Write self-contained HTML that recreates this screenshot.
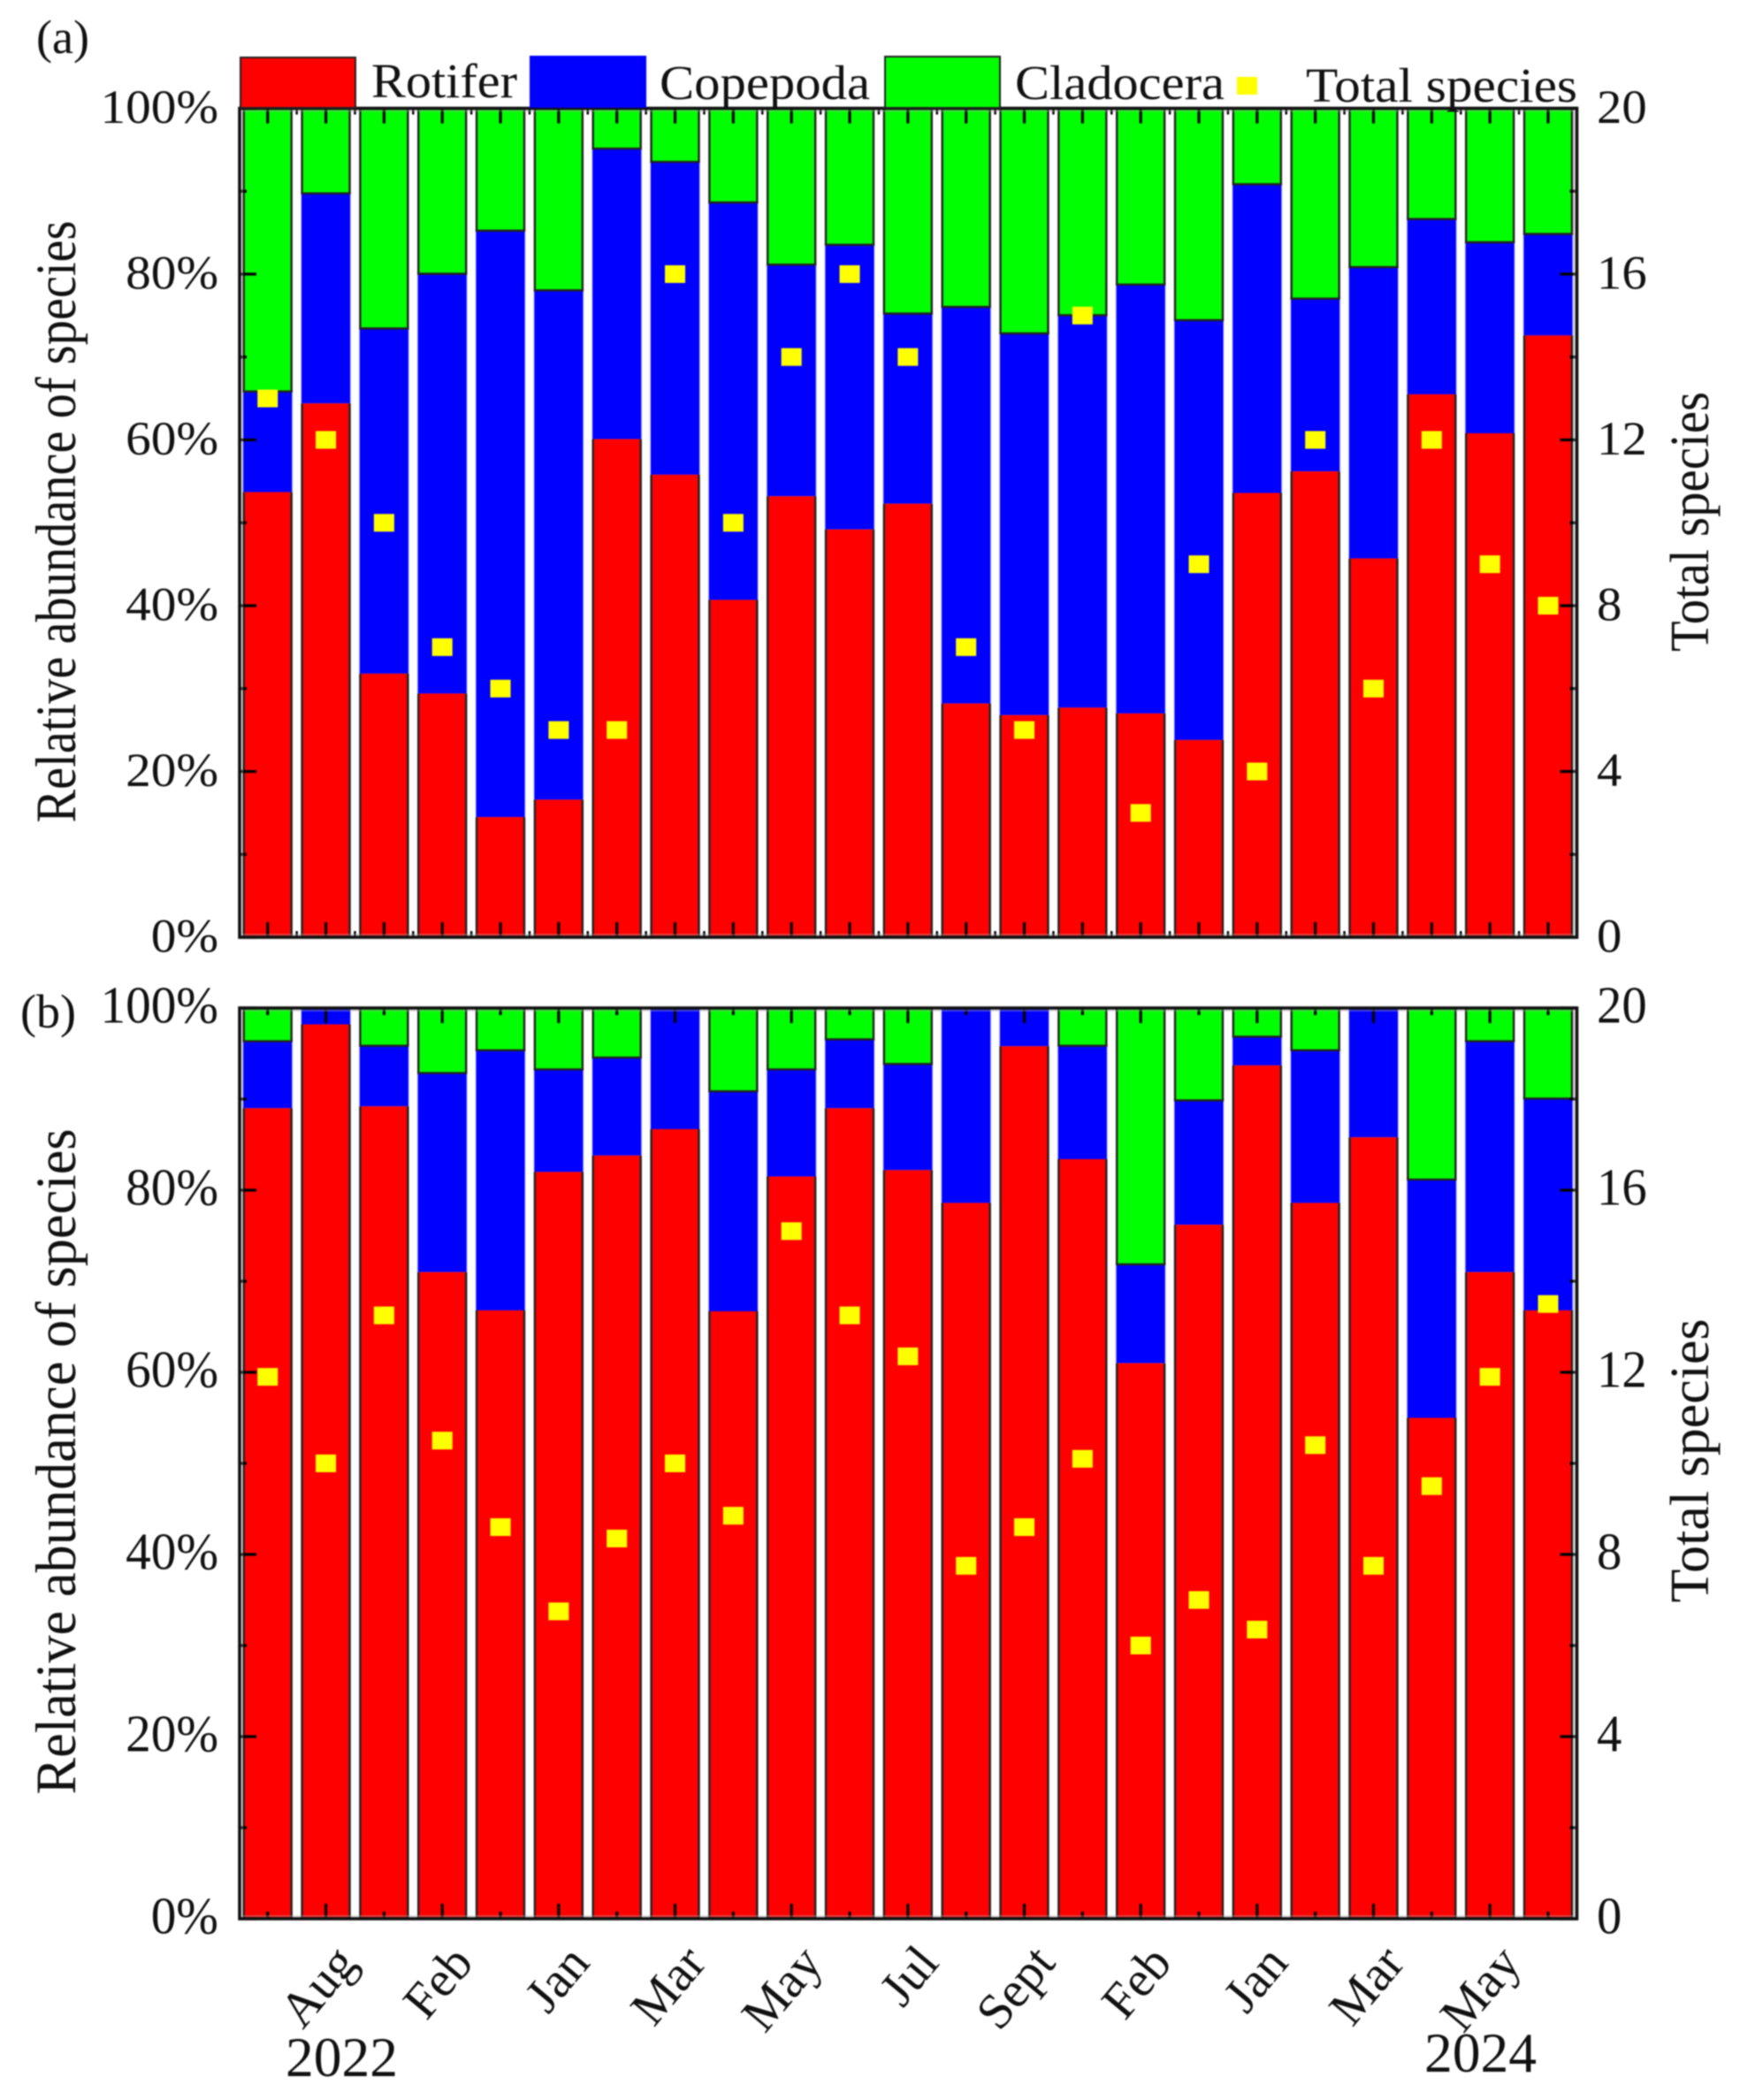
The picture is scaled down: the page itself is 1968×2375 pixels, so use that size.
<!DOCTYPE html>
<html lang="en">
<head>
<meta charset="utf-8">
<title>Relative abundance of species</title>
<style>
html,body{margin:0;padding:0;background:#fff;width:1968px;height:2375px;overflow:hidden}
svg{display:block;filter:blur(0.8px)}
text{font-family:"Liberation Serif",serif;fill:#111}
</style>
</head>
<body>
<svg id="chart" xmlns="http://www.w3.org/2000/svg" width="1968" height="2375" viewBox="0 0 1968 2375">
  <rect x="0" y="0" width="1968" height="2375" fill="#fff"/>
  <g id="panels"></g>

  <g>
    <rect x="272" y="65" width="130" height="57" fill="#ff0000" stroke="#222" stroke-width="2"/>
    <text x="420" y="110" font-size="55" textLength="165" lengthAdjust="spacingAndGlyphs">Rotifer</text>
    <rect x="599" y="63" width="132" height="59" fill="#0000ff"/>
    <text x="746" y="112" font-size="55" textLength="238" lengthAdjust="spacingAndGlyphs">Copepoda</text>
    <rect x="1001" y="64" width="130" height="58" fill="#00ff00" stroke="#222" stroke-width="2"/>
    <text x="1148" y="112" font-size="55" textLength="237" lengthAdjust="spacingAndGlyphs">Cladocera</text>
    <rect x="1399" y="87" width="23" height="20" fill="#ffff00"/>
    <text x="1477" y="115" font-size="55" textLength="307" lengthAdjust="spacingAndGlyphs">Total species</text>
  </g>

  <text x="41" y="60" font-size="54">(a)</text>
  <text x="23" y="1162" font-size="54">(b)</text>

  <text transform="translate(85,590) rotate(-90)" text-anchor="middle" font-size="65" textLength="681" lengthAdjust="spacingAndGlyphs">Relative abundance of species</text>
  <text transform="translate(85,1653) rotate(-90)" text-anchor="middle" font-size="65" textLength="753" lengthAdjust="spacingAndGlyphs">Relative abundance of species</text>
  <text transform="translate(1932,590) rotate(-90)" text-anchor="middle" font-size="62" textLength="294" lengthAdjust="spacingAndGlyphs">Total species</text>
  <text transform="translate(1932,1652) rotate(-90)" text-anchor="middle" font-size="62" textLength="321" lengthAdjust="spacingAndGlyphs">Total species</text>

  <text x="323" y="2348" font-size="63.5">2022</text>
  <text x="1611" y="2343" font-size="63.5">2024</text>
  <g id="xlabels"></g>
</svg>
<script>
const monthLabels = ["Aug","Feb","Jan","Mar","May","Jul","Sept","Feb","Jan","Mar","May"];
const percentTicks = ["0%","20%","40%","60%","80%","100%"];
const speciesTicks = ["0","4","8","12","16","20"];

const rotiferA = [53.7,64.4,31.8,29.4,14.5,16.6,60.1,55.8,40.7,53.2,49.2,52.3,28.2,26.8,27.7,27.0,23.8,53.6,56.2,45.7,65.5,60.8,72.6];
const copepodaA = [12.3,25.5,41.8,50.8,70.9,61.6,35.2,37.9,48.1,28.1,34.5,23.1,48,46.2,47.5,51.9,50.8,37.4,21,35.3,21.3,23.2,12.4];
const cladoceraA = [34,10.1,26.4,19.8,14.6,21.8,4.7,6.3,11.2,18.7,16.3,24.6,23.8,27,24.8,21.1,25.4,9,22.8,19,13.2,16,15];
const speciesA = [13,12,10,7,6,5,5,16,10,14,16,14,7,5,15,3,9,4,12,6,12,9,8];

const rotiferB = [89,98.2,89.2,71,66.8,82,83.8,86.7,66.7,81.5,89,82.2,78.6,95.8,83.4,61,76.2,93.7,78.6,85.8,55,71,66.8];
const copepodaB = [7.5,1.8,6.8,22,28.7,11.4,10.9,13.3,24.3,11.9,7.7,11.8,21.4,4.2,12.6,11,13.8,3.3,16.9,14.2,26.3,25.5,23.4];
const cladoceraB = [3.5,0,4,7,4.5,6.6,5.3,0,9,6.6,3.3,6,0,0,4,28,10,3,4.5,0,18.7,3.5,9.8];
const speciesB = [11.9,10,13.25,10.5,8.6,6.75,8.35,10,8.85,15.1,13.25,12.35,7.75,8.6,10.1,6,7,6.35,10.4,7.75,9.5,11.9,13.5];

const NS = "http://www.w3.org/2000/svg";
const X0 = 269.8, BAND = 65.83, BAR_W = 54, AX_L = 271, AX_R = 1783.5;
const xCenter = i => X0 + BAND * (i + 0.5);

function mk(tag, attrs, parent) {
  const n = document.createElementNS(NS, tag);
  for (const k in attrs) n.setAttribute(k, attrs[k]);
  parent.appendChild(n);
  return n;
}

function drawPanel(key, top, bottom, sy, rot, cop, cla, spc, alternating) {
  const root = document.getElementById("panels");
  const g = mk("g", {}, root);
  
  
  const yPct = v => bottom - (bottom - top) * v / 100;
  const ySpc = v => bottom - (bottom - top) * v / 20;

  rot.forEach((r, i) => {
    const cx = xCenter(i), l = cx - BAR_W / 2, rt = cx + BAR_W / 2;
    const y1 = yPct(r), y2 = yPct(r + cop[i]), y3 = yPct(r + cop[i] + cla[i]);
    const yg = y2 + 1.5;

    const blueHalo = mk("rect", {x: l - 1.5, y: y2, width: BAR_W + 3, height: Math.max(0, y1 - y2), fill: "#c4c4ff"}, g);
    
    

    const blue = mk("rect", {x: l - 0.5, y: y2, width: BAR_W + 1, height: Math.max(0, y1 - y2), fill: "#0000ff"}, g);
    
    

    const red = mk("rect", {x: l, y: y1, width: BAR_W, height: bottom - y1, fill: "#ff0000"}, g);
    
    

    const redEdge = mk("path", {d: `M${l} ${y1}V${bottom}M${rt} ${y1}V${bottom}`, stroke: "#222", "stroke-width": 2.4, fill: "none"}, g);
    
    

    if (cla[i] > 0) {
      const green = mk("rect", {x: l, y: y3, width: BAR_W, height: yg - y3, fill: "#00ff00"}, g);
      
      

      const greenEdge = mk("path", {d: `M${l} ${y3}V${yg}H${rt}V${y3}`, stroke: "#222", "stroke-width": 2.4, fill: "none"}, g);
      
      
    }
  });

  // y ticks and labels
  const ticks = mk("g", {stroke: "#000", "stroke-width": 3.2, fill: "none"}, g);
  
  
  for (let p = 0; p <= 100; p += 10) {
    const y = yPct(p), len = p % 20 === 0 ? 19 : 8;
    const t = mk("path", {d: `M${AX_L} ${y}h${len}M${AX_R} ${y}h${-len}`}, ticks);
    
    
  }
  percentTicks.forEach((lab, i) => {
    const y = yPct(i * 20) + 16.5;
    const t = mk("text", {transform: `translate(247,${y}) scale(1.06,${sy})`, "text-anchor": "end", "font-size": 54}, g);
    t.textContent = lab;
    
    
  });
  speciesTicks.forEach((lab, i) => {
    const y = yPct(i * 20) + 16.5;
    const t = mk("text", {transform: `translate(1806,${y}) scale(1.05,${sy})`, "font-size": 54}, g);
    t.textContent = lab;
    
    
  });

  // x ticks
  rot.forEach((_, i) => {
    const cx = xCenter(i);
    const major = alternating ? i % 2 === 1 : true;
    const len = major ? 17 : 8;
    const t = mk("path", {d: `M${cx} ${top}v${len}M${cx} ${bottom}v${-len}`}, ticks);
    
    
    if (!alternating && i < rot.length - 1) {
      const edge = cx + BAND / 2;
      const m = mk("path", {d: `M${edge} ${top}v7M${edge} ${bottom}v-7`, "stroke-width": 2.5}, ticks);
      
      
    }
  });

  // frame
  const halo = mk("rect", {x: AX_L + 3, y: top + 3, width: AX_R - AX_L - 6, height: bottom - top - 6, fill: "none", stroke: "#aaa", "stroke-width": 1.5, "stroke-opacity": 0.5}, g);
  
  
  const frame = mk("rect", {x: AX_L, y: top, width: AX_R - AX_L, height: bottom - top, fill: "none", stroke: "#111", "stroke-width": 3.6}, g);
  
  

  // markers
  spc.forEach((s, i) => {
    const m = mk("rect", {x: xCenter(i) - 11.5, y: ySpc(s) - 10, width: 23, height: 20, fill: "#ffff00"}, g);
    
    
  });
}

drawPanel("a", 122.5, 1060, 1, rotiferA, copepodaA, cladoceraA, speciesA, false);
drawPanel("b", 1140, 2170, 1.1, rotiferB, copepodaB, cladoceraB, speciesB, true);

const xl = document.getElementById("xlabels");
monthLabels.forEach((lab, i) => {
  const tx = xCenter(i * 2 + 1);
  const t = mk("text", {transform: `translate(${tx + 37},2221) rotate(-50)`, "text-anchor": "end", "font-size": 57}, xl);
  t.textContent = lab;
  
  
});
</script>
</body>
</html>
